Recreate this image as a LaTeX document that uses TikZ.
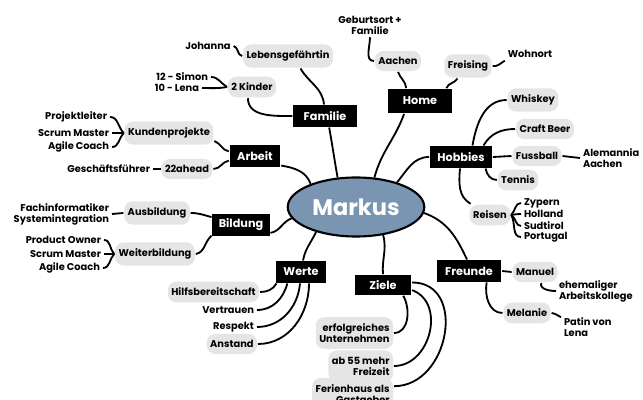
\documentclass[tikz,border=0pt]{standalone}
\usepackage{fontspec}
\setmainfont{Poppins}
\usetikzlibrary{shapes.geometric}
\definecolor{markusblue}{RGB}{122,149,178}
\begin{document}
\begin{tikzpicture}[x=0.025cm,y=0.025cm,line width=1.3pt,
	hub/.style={ellipse,draw,line width=1.5pt,fill=markusblue,text=white,font=\bfseries\fontsize{16}{18}\selectfont,minimum width=3.3cm,minimum height=1.475cm},
	topic/.style={fill=black,text=white,font=\bfseries\fontsize{8}{9}\selectfont,inner xsep=4.5pt,minimum width=36pt,minimum height=15pt},
	leaf/.style={fill=gray!20,rounded corners=6pt,inner xsep=2.5pt,inner ysep=4.5pt,font=\bfseries\fontsize{7}{7.9}\selectfont},
	note/.style={inner sep=1.5pt,font=\bfseries\fontsize{7}{7.9}\selectfont}]
\useasboundingbox (0,0) rectangle (643,400);
\node[hub] (markus) at (356,193) {Markus};
\node[topic,minimum width=45pt] (familie) at (325,284) {Familie};
\node[topic,minimum width=46pt,minimum height=17pt] (home) at (420,299) {Home};
\node[topic] (arbeit) at (255,244) {Arbeit};
\node[topic,minimum width=44pt] (hobbies) at (461,243) {Hobbies};
\node[topic] (bildung) at (241,175) {Bildung};
\node[topic] (werte) at (301,128) {Werte};
\node[topic,minimum width=40pt,minimum height=14pt] (ziele) at (383,115) {Ziele};
\node[topic,minimum width=46pt] (freunde) at (469,129) {Freunde};

\node[leaf] (lebens) at (288,344) {Lebensgefährtin};
\node[note] (johanna) at (208,354) {Johanna};
\node[leaf] (kinder) at (252,313) {2 Kinder};
\node[note,anchor=east] (simon) at (211,323) {12 - Simon};
\node[note,anchor=east] (lena) at (202,312) {10 - Lena};
\node[leaf] (aachen) at (398,339) {Aachen};
\node[note,align=center] (geburt) at (370,375) {Geburtsort +\\Familie};
\node[leaf] (freising) at (468,334) {Freising};
\node[note] (wohnort) at (530,346) {Wohnort};

\node[leaf] (kunden) at (169,267) {Kundenprojekte};
\node[note,anchor=east] (projekt) at (110,283) {Projektleiter};
\node[note,anchor=east] (scrum) at (112,267) {Scrum Master};
\node[note,anchor=east] (agile) at (112,253) {Agile Coach};
\node[leaf] (ahead) at (187,231) {22ahead};
\node[note,anchor=east] (gf) at (153,231) {Geschäftsführer};

\node[leaf] (whiskey) at (533,300) {Whiskey};
\node[leaf] (craft) at (545,271) {Craft Beer};
\node[leaf] (fussball) at (537,244) {Fussball};
\node[note,anchor=west,align=left] (alemannia) at (580,242) {Alemannia\\Aachen};
\node[leaf] (tennis) at (518,220) {Tennis};
\node[leaf] (reisen) at (490,185) {Reisen};
\node[note,anchor=west] (zypern) at (521,197) {Zypern};
\node[note,anchor=west] (holland) at (521,186) {Holland};
\node[note,anchor=west] (sudtirol) at (521,174) {Sudtirol};
\node[note,anchor=west] (portugal) at (521,163) {Portugal};

\node[leaf] (ausbildung) at (157,187) {Ausbildung};
\node[note,anchor=east,align=right] (fachinf) at (112,186) {Fachinformatiker\\Systemintegration};
\node[leaf] (weiter) at (155,146) {Weiterbildung};
\node[note,anchor=east] (owner) at (104,160) {Product Owner};
\node[note,anchor=east] (scrumb) at (104,146) {Scrum Master};
\node[note,anchor=east] (agileb) at (103,132) {Agile Coach};

\node[leaf,anchor=east] (hilfe) at (260,108) {Hilfsbereitschaft};
\node[note,anchor=east] (vertrauen) at (257,90) {Vertrauen};
\node[note,anchor=east] (respekt) at (257,73) {Respekt};
\node[leaf,anchor=east] (anstand) at (258,56) {Anstand};

\node[leaf,anchor=east,align=right] (erfolg) at (394,67) {erfolgreiches\\Unternehmen};
\node[leaf,anchor=east,align=right] (frei) at (394,34) {ab 55 mehr\\Freizeit};
\node[leaf,anchor=east,align=right] (ferien) at (394,5) {Ferienhaus als\\Gastgeber};

\node[leaf] (manuel) at (535,128) {Manuel};
\node[note,anchor=west,align=left] (ehem) at (556,109) {ehemaliger\\Arbeitskollege};
\node[leaf] (melanie) at (527,87) {Melanie};
\node[note,anchor=west,align=left] (patin) at (561,73) {Patin von\\Lena};

\draw (markus.122) to[out=100,in=-80] (familie.-70);
\draw (markus.58) to[out=75,in=-110] (home.-141);
\draw (markus.31) to[out=50,in=180] (hobbies.west);
\draw (arbeit.-20) to[out=-10,in=110] (markus.153);
\draw (bildung.-15) to[out=10,in=-160] (markus.190);
\draw (markus.212) to[out=-115,in=80] (werte.80);
\draw (markus.-46) to[out=-75,in=95] (ziele.north);
\draw (markus.-5) to[out=-20,in=115] (freunde.100);

\draw (familie.95) to[out=95,in=-60] (lebens.-45);
\draw (johanna.east) to[out=-15,in=170] (lebens.west);
\draw (familie.west) to[out=180,in=-90] (kinder.-110);
\draw (simon.east) to[out=0,in=150] (kinder.west);
\draw (lena.east) to[out=0,in=-170] (kinder.west);
\draw (home.137) to[out=95,in=-70] (aachen.south);
\draw (geburt.south) to[out=-90,in=180] (aachen.west);
\draw (home.26) to[out=70,in=-120] (freising.-130);
\draw (freising.east) to[out=-10,in=-150] (wohnort.south west);

\draw (arbeit.170) to[out=170,in=-20] (kunden.-10);
\draw (arbeit.-170) to[out=190,in=0] (ahead.east);
\draw (projekt.east) to[out=0,in=135] (kunden.west);
\draw (scrum.east) -- (kunden.west);
\draw (agile.east) to[out=0,in=-135] (kunden.west);
\draw (gf.east) -- (ahead.west);

\draw (hobbies.45) to[out=80,in=180] (whiskey.west);
\draw (hobbies.27) to[out=60,in=180] (craft.west);
\draw (hobbies.east) -- (fussball.west);
\draw (fussball.east) -- (alemannia.west);
\draw (hobbies.-25) to[out=-80,in=180] (tennis.west);
\draw (hobbies.-95) to[out=-95,in=150] (reisen.150);
\draw (reisen.east) to[out=45,in=180] (zypern.west);
\draw (reisen.east) to[out=10,in=180] (holland.west);
\draw (reisen.east) to[out=-30,in=180] (sudtirol.west);
\draw (reisen.east) to[out=-60,in=180] (portugal.west);

\draw (ausbildung.east) to[out=0,in=165] (bildung.165);
\draw (weiter.east) to[out=10,in=-140] (bildung.-160);
\draw (fachinf.east) -- (ausbildung.west);
\draw (owner.east) to[out=0,in=135] (weiter.west);
\draw (scrumb.east) -- (weiter.west);
\draw (agileb.east) to[out=0,in=-135] (weiter.west);

\draw (werte.-155) to[out=-120,in=0] (hilfe.east);
\draw (werte.-140) to[out=-105,in=0] (vertrauen.east);
\draw (werte.-95) to[out=-95,in=0] (respekt.east);
\draw (werte.-55) to[out=-90,in=0] (anstand.east);

\draw (ziele.-28) to[out=-60,in=0] (erfolg.east);
\draw (ziele.-10) to[out=-20,in=0,looseness=1.2] (frei.east);
\draw (ziele.5) to[out=0,in=0,looseness=1.35] (ferien.12);

\draw (freunde.east) -- (manuel.west);
\draw (manuel.-60) to[out=-110,in=180] (ehem.west);
\draw (freunde.-33) to[out=-100,in=180] (melanie.west);
\draw (melanie.east) to[out=-10,in=150] (patin.160);
\end{tikzpicture}
\end{document}
